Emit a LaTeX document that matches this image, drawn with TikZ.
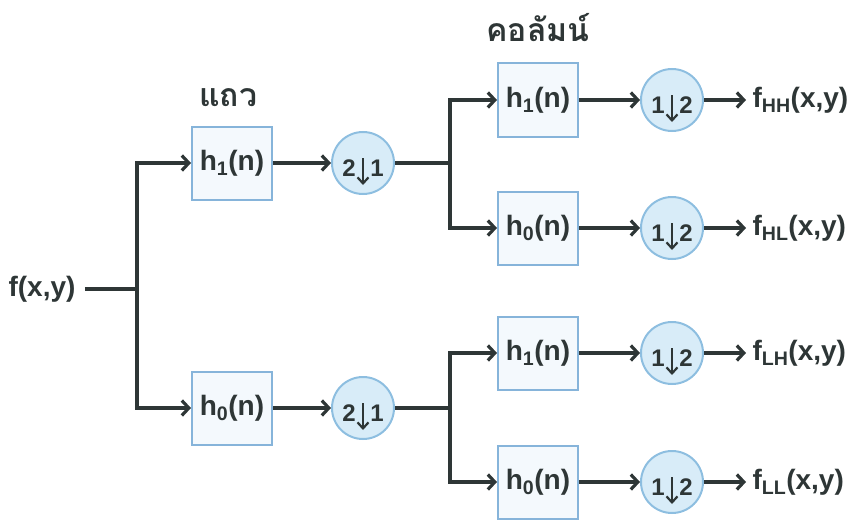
\documentclass[tikz,border=0pt]{standalone}
\usepackage{fontspec}
\setmainfont{Liberation Sans}
\newfontfamily\thaifont[Script=Thai]{Loma}
\usetikzlibrary{arrows.meta}

\definecolor{ink}{HTML}{2E3636}
\definecolor{boxline}{HTML}{86B4DA}
\definecolor{boxfill}{HTML}{F4F9FD}
\definecolor{dsline}{HTML}{8DBEE0}
\definecolor{dsfill}{HTML}{D8ECF8}

% downsampler: circle with "a (arrow) b"
\newcommand{\drawdown}[5]{
	\node[ds] (#1) at (#2,#3) {};
	\node[digit, xshift=-14pt, yshift=-5pt] (#1l) at (#1) {#4};
	\node[digit, xshift=14pt, yshift=-5pt] (#1r) at (#1) {#5};
	\draw[ink, line width=2.2pt, -{Straight Barb[length=6pt,width=11pt]}] ([yshift=5pt]#1.center) -- ([yshift=-22pt]#1.center);
}

\begin{document}
\begin{tikzpicture}[x=1pt,y=-1pt,
	every node/.style={font=\fontsize{28}{32}\selectfont\bfseries, text=ink},
	filt/.style={draw=boxline, fill=boxfill, line width=2pt, minimum width=80pt, minimum height=73pt, inner sep=0pt},
	ds/.style={circle, draw=dsline, fill=dsfill, line width=2pt, minimum size=62pt, inner sep=0pt},
	digit/.style={font=\fontsize{24}{26}\selectfont\bfseries, inner sep=0pt},
	thai/.style={font=\fontsize{32}{36}\selectfont\bfseries\thaifont},
	wire/.style={draw=ink, line width=3.2pt},
	flow/.style={wire, -{Straight Barb[length=7pt,width=15pt]}},
]
	\useasboundingbox (0,0) rectangle (848,519);

	% input and row stage
	\node (fin) at (42,289) {f(x,y)};
	\coordinate (j0) at (137,289);
	\node[filt] (r1) at (232,163) {h\textsubscript{1}(n)};
	\node[filt] (r0) at (232,408) {h\textsubscript{0}(n)};
	\node[thai] (rowlbl) at (228,98) {แถว};
	\drawdown{d1}{363}{163}{2}{1}
	\drawdown{d0}{363}{408}{2}{1}

	\draw[wire, shorten <=6pt] (fin.east) -- (j0);
	\draw[flow] (j0) |- (r1);
	\draw[flow] (j0) |- (r0);
	\draw[flow] (r1) -- (d1);
	\draw[flow] (r0) -- (d0);

	% column stage
	\node[thai] (collbl) at (538,28) {คอลัมน์};
	\coordinate (jr1) at (450,163);
	\coordinate (jr0) at (450,408);
	\draw[wire] (d1) -- (jr1);
	\draw[wire] (d0) -- (jr0);

	\foreach \nm/\yy/\k/\j in {HH/100/1/jr1, HL/228/0/jr1, LH/353/1/jr0, LL/482/0/jr0} {
		\node[filt] (b\nm) at (538,\yy) {h\textsubscript{\k}(n)};
		\drawdown{c\nm}{672}{\yy}{1}{2}
		\node[anchor=west] (o\nm) at (749,\yy) {f\textsubscript{\nm}(x,y)};
		\draw[flow] (\j) |- (b\nm);
		\draw[flow] (b\nm) -- (c\nm);
		\draw[flow, shorten >=3pt] (c\nm) -- (o\nm);
	}
\end{tikzpicture}
\end{document}
